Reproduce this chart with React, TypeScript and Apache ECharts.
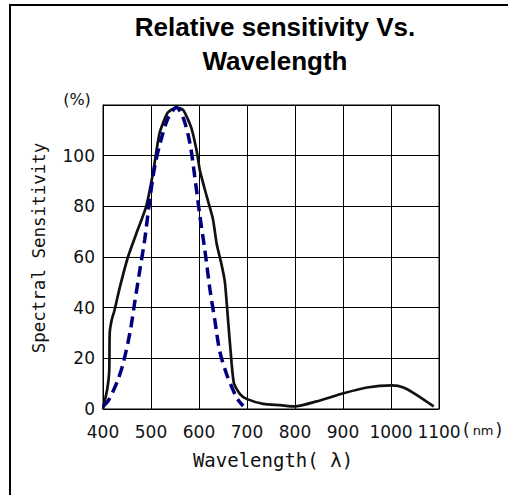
import React, { useEffect, useRef } from "react";
import * as echarts from "echarts";

const xTicks = [400, 500, 600, 700, 800, 900, 1000, 1100];
const yTicks = [0, 20, 40, 60, 80, 100];

const solidWavelength = [400, 409, 413, 414, 418, 424, 435, 452, 469, 490, 504, 518, 535, 553, 567, 584, 595, 602, 616, 629, 637, 647, 654, 661, 668, 673, 685, 699, 734, 769, 800, 845, 901, 950, 1002, 1026, 1054, 1089];
const solidSensitivity = [0, 8, 15, 30, 35, 39, 48, 60, 69, 80, 93, 109, 117, 119, 118, 111, 102, 94, 84, 75, 65, 57, 50, 34, 18, 10, 6, 4, 2, 1.5, 1, 3, 6.2, 8.5, 9.3, 8.5, 5.5, 1];

const dashedWavelength = [400, 410, 421, 432, 442, 456, 466, 476, 487, 497, 508, 522, 536, 553, 567, 581, 591, 602, 612, 623, 633, 643, 657, 671, 680, 692];
const dashedSensitivity = [1, 3, 7, 12, 18, 30, 42, 54, 67, 82, 96, 107, 115, 119, 115, 105, 92, 76, 63, 47, 35, 23, 14, 7.5, 4, 1.2];

const pairs = (xs: number[], ys: number[]) => xs.map((x, i) => [x, ys[i]]);

export default function App() {
  const ref = useRef<HTMLDivElement>(null);
  useEffect(() => {
    if (!ref.current) return;
    const chart = echarts.init(ref.current, null, { renderer: "svg" });
    chart.setOption({
      animation: false,
      backgroundColor: "#ffffff",
      title: {
        text: "Relative sensitivity Vs.\nWavelength",
        left: 270,
        top: 5,
        textAlign: "center",
        textStyle: {
          fontFamily: "Liberation Sans",
          fontWeight: "bold",
          fontSize: 26,
          lineHeight: 34,
          color: "#000",
        },
      },
      grid: { left: 103, top: 105, right: 69, bottom: 86, show: true, borderColor: "#000", borderWidth: 1 },
      xAxis: {
        type: "value",
        min: 400,
        max: 1100,
        interval: 100,
        axisLine: { show: true, lineStyle: { color: "#000", width: 1 } },
        axisTick: { show: false },
        splitLine: { show: true, lineStyle: { color: "#000", width: 1 } },
        axisLabel: {
          color: "#111",
          fontFamily: "DejaVu Sans",
          fontSize: 17,
          margin: 14,
          formatter: (v: number) => (xTicks.includes(v) ? String(v) : ""),
        },
      },
      yAxis: {
        type: "value",
        min: 0,
        max: 120,
        interval: 20,
        axisLine: { show: true, lineStyle: { color: "#000", width: 1 } },
        axisTick: { show: false },
        splitLine: { show: true, lineStyle: { color: "#000", width: 1 } },
        axisLabel: {
          color: "#111",
          fontFamily: "DejaVu Sans",
          fontSize: 17,
          margin: 8,
          formatter: (v: number) => (yTicks.includes(v) ? String(v) : ""),
        },
      },
      series: [
        {
          type: "line",
          data: pairs(solidWavelength, solidSensitivity),
          showSymbol: false,
          smooth: 0.2,
          lineStyle: { color: "#111", width: 2.7 },
          z: 3,
        },
        {
          type: "line",
          data: pairs(dashedWavelength, dashedSensitivity),
          showSymbol: false,
          smooth: 0.3,
          lineStyle: { color: "#00007f", width: 3.5, type: [11, 6] },
          z: 4,
        },
      ],
      graphic: [
        { type: "line", shape: { x1: 9, y1: 5, x2: 508, y2: 5 }, style: { stroke: "#000", lineWidth: 2 } },
        { type: "line", shape: { x1: 10, y1: 4, x2: 10, y2: 495 }, style: { stroke: "#000", lineWidth: 2 } },
        {
          type: "text",
          x: 77,
          y: 99,
          style: { text: "(%)", fontFamily: "DejaVu Sans", fontSize: 16, fill: "#111", align: "center", verticalAlign: "middle" },
        },
        {
          type: "text",
          x: 39,
          y: 248,
          rotation: Math.PI / 2,
          style: { text: "Spectral Sensitivity", fontFamily: "DejaVu Sans Mono", fontSize: 17.5, fill: "#111", align: "center", verticalAlign: "middle" },
        },
        {
          type: "text",
          x: 273,
          y: 460,
          style: { text: "Wavelength( λ)", fontFamily: "DejaVu Sans Mono", fontSize: 19, fill: "#111", align: "center", verticalAlign: "middle" },
        },
        {
          type: "text",
          x: 463,
          y: 430,
          style: {
            text: "{p|(}{s|nm}{p|)}",
            verticalAlign: "middle",
            rich: {
              p: { fontFamily: "DejaVu Sans", fontSize: 17, fill: "#111" },
              s: { fontFamily: "DejaVu Sans", fontSize: 13, fill: "#111", padding: [0, 2, 0, 3] },
            },
          },
        },
      ],
    });
    return () => chart.dispose();
  }, []);
  return <div ref={ref} style={{ position: "fixed", left: 0, top: 0, width: 508, height: 495 }} />;
}
